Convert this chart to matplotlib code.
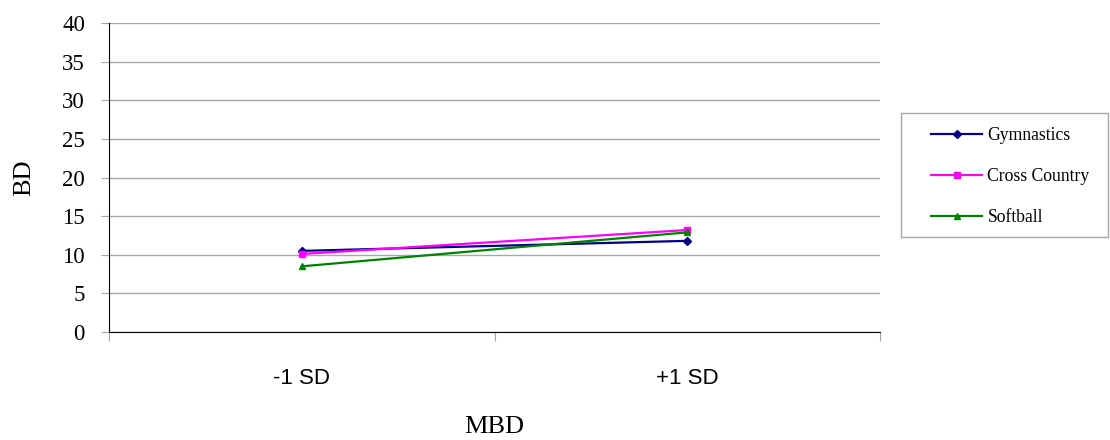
import matplotlib
matplotlib.use("Agg")
import matplotlib.pyplot as plt
from matplotlib.ticker import FixedLocator
from matplotlib.patches import Rectangle

categories = ["-1 SD", "+1 SD"]
gymnastics = [10.5, 11.8]
cross_country = [10.1, 13.2]
softball = [8.5, 12.9]
y_ticks = [0, 5, 10, 15, 20, 25, 30, 35, 40]

W, H = 1110, 440
fig = plt.figure(figsize=(W/100, H/100), dpi=100)
ax = fig.add_axes([109/W, 1-332/H, (880-109)/W, (332-23)/H])

x = list(range(len(categories)))
ax.plot(x, gymnastics, color="#000080", marker="D", markersize=4.5, lw=1.6, label="Gymnastics")
ax.plot(x, cross_country, color="#FF00FF", marker="s", markersize=5, lw=1.6, label="Cross Country")
ax.plot(x, softball, color="#008000", marker="^", markersize=5, lw=1.6, label="Softball")

ax.set_xlim(-0.5, 1.5)
ax.set_ylim(0, 40)
ax.set_yticks(y_ticks)
ax.yaxis.grid(True, color="#A6A6A6", lw=1)
ax.set_axisbelow(True)
ax.xaxis.set_major_locator(FixedLocator([-0.5, 0.5, 1.5]))
ax.xaxis.set_major_formatter(plt.NullFormatter())
ax.set_xticks(x, minor=True)
ax.set_xticklabels(categories, minor=True, fontfamily="Liberation Sans", fontsize=16)
ax.tick_params(axis="x", which="minor", length=0, pad=26)
ax.tick_params(axis="x", which="major", length=6.5, color="#A6A6A6")
ax.tick_params(axis="y", length=5.8, color="#A6A6A6", pad=11.5)
for lab in ax.get_yticklabels():
    lab.set_fontfamily("Liberation Serif")
    lab.set_fontsize(16.5)

for s in ["top", "right"]:
    ax.spines[s].set_visible(False)
ax.spines["left"].set_color("black")
ax.spines["bottom"].set_color("black")

ax.set_ylabel("BD", fontfamily="Liberation Serif", fontsize=19, labelpad=19)
ax.set_xlabel("MBD", fontfamily="Liberation Serif", fontsize=19, labelpad=19)

fig.patches.append(Rectangle((901/W, 1-237/H), (1108-901)/W, (237-113)/H, transform=fig.transFigure,
                             fill=False, edgecolor="#A6A6A6", lw=1))
leg = fig.legend(loc="upper left", bbox_to_anchor=(931/W, 1-127/H), prop={"family": "Liberation Serif", "size": 12.7},
                 frameon=False, handlelength=2.9, labelspacing=1.37,
                 borderpad=0, handletextpad=0.3, borderaxespad=0)

fig.savefig("out.png", dpi=100)
